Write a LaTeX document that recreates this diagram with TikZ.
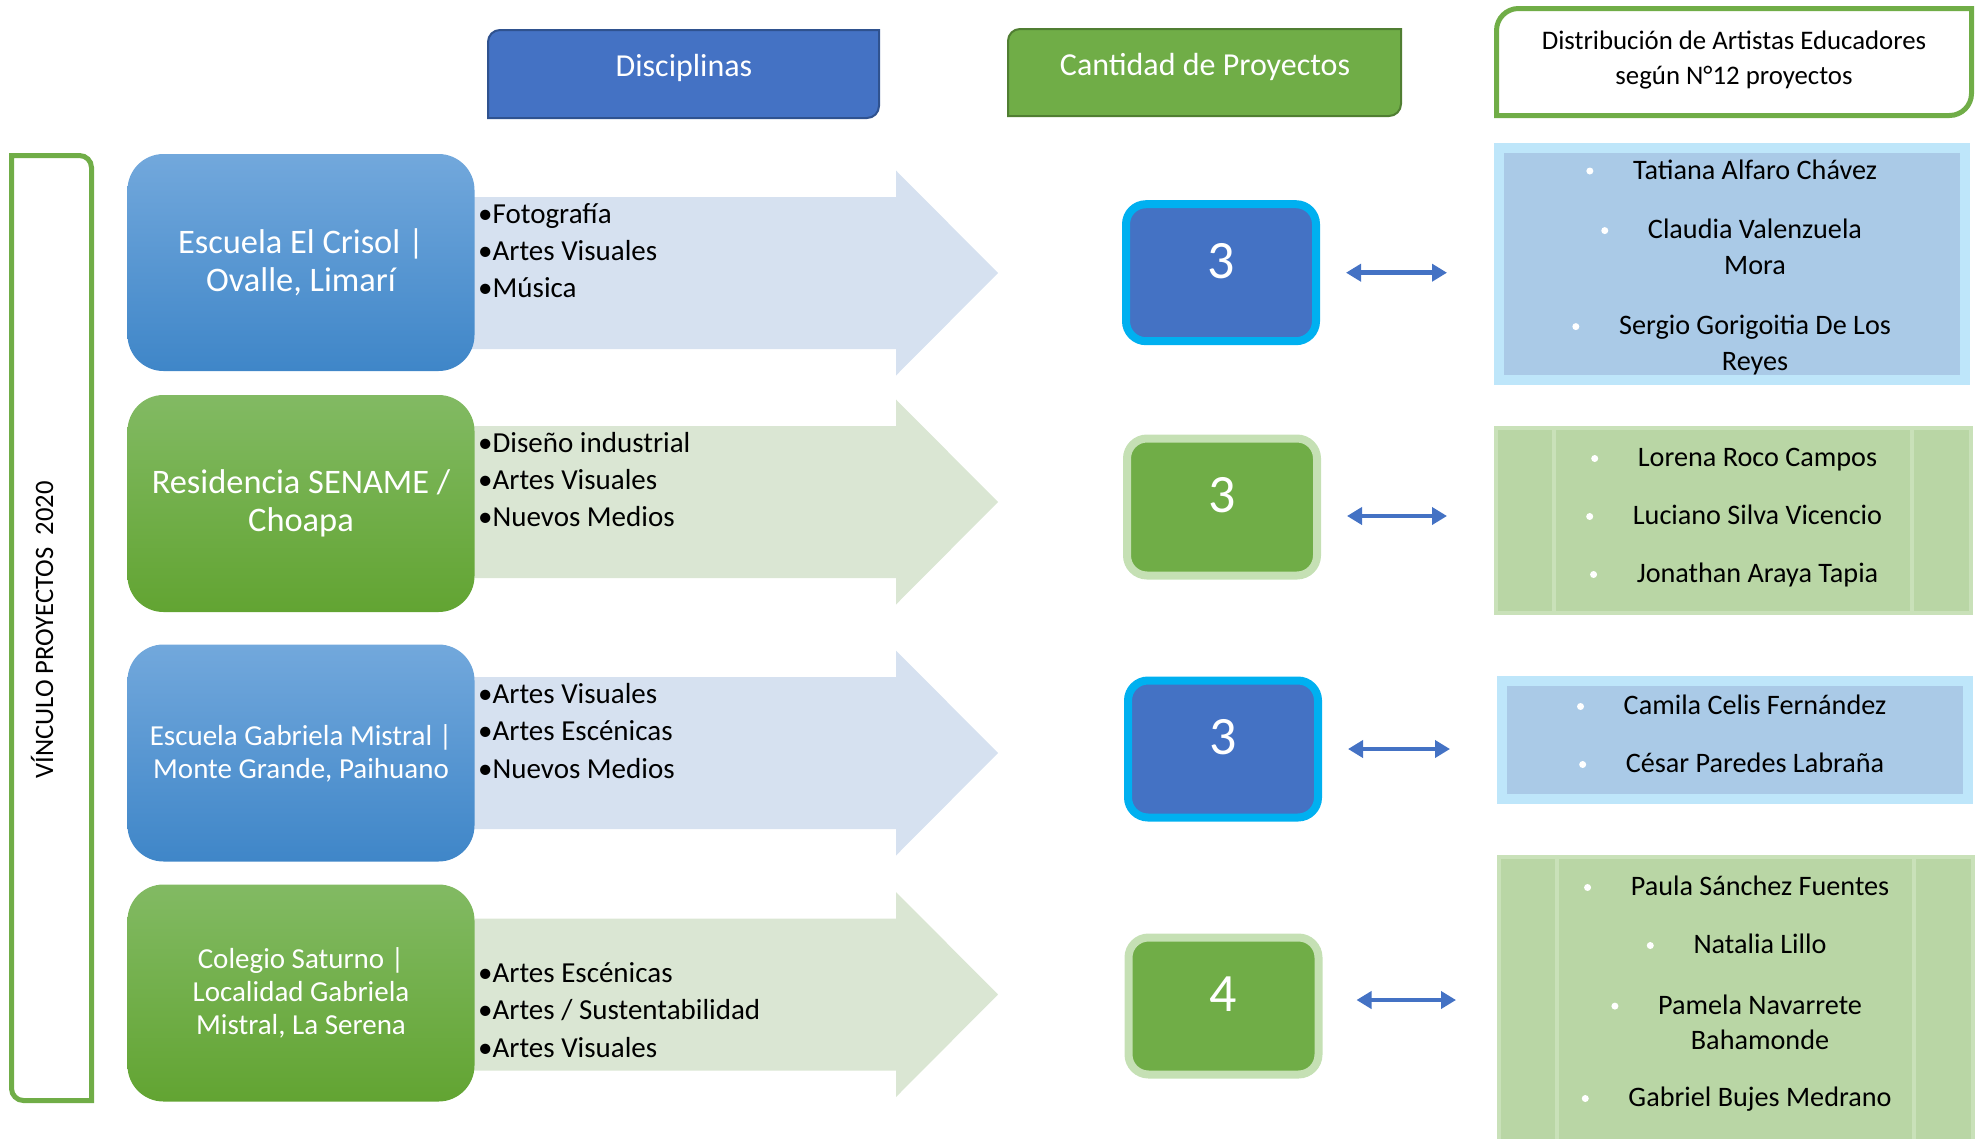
\documentclass[tikz,border=0pt]{standalone}
\usepackage{fontspec}
\setmainfont{Carlito}
\usetikzlibrary{positioning,arrows.meta}

\definecolor{hdrblue}{HTML}{4472C4}
\definecolor{hdrblueline}{HTML}{2F528F}
\definecolor{hdrgreen}{HTML}{70AD47}
\definecolor{hdrgreenline}{HTML}{507E32}
\definecolor{rowbluetop}{HTML}{72A8DC}
\definecolor{rowbluebot}{HTML}{3F86C8}
\definecolor{rowgreentop}{HTML}{82BA63}
\definecolor{rowgreenbot}{HTML}{62A432}
\definecolor{arwblue}{HTML}{D6E1F0}
\definecolor{arwgreen}{HTML}{DAE6D3}
\definecolor{numcyan}{HTML}{00B0F0}
\definecolor{numpale}{HTML}{C5E0B4}
\definecolor{nameblue}{HTML}{AACAE7}
\definecolor{namebevel}{HTML}{BEE6FA}
\definecolor{namegreen}{HTML}{B9D6A5}
\definecolor{nameline}{HTML}{C9E1B9}

\tikzset{
	school/.style={rounded corners=36pt, minimum width=347pt, minimum height=217pt,
		text=white, align=center, inner sep=0pt},
	schoolblue/.style={school, top color=rowbluetop, bottom color=rowbluebot},
	schoolgreen/.style={school, top color=rowgreentop, bottom color=rowgreenbot},
	subjects/.style={anchor=west, align=left, inner sep=0pt, font=\fontsize{29}{37.3}\selectfont},
	countbox/.style={rounded corners=20pt, minimum width=190pt, minimum height=137pt,
		line width=8pt, inner sep=0pt},
	countblue/.style={countbox, fill=hdrblue, draw=numcyan},
	countgreen/.style={countbox, fill=hdrgreen, draw=numpale},
	count/.style={text=white, inner sep=0pt, font=\fontsize{54}{60}\selectfont},
	link/.style={{Triangle[width=17pt,length=15pt]}-{Triangle[width=17pt,length=15pt]},
		line width=4.5pt, hdrblue, shorten <=26pt, shorten >=47pt},
	artistblue/.style={fill=nameblue, draw=namebevel, line width=10pt, inner sep=0pt},
	artistgreen/.style={fill=namegreen, draw=nameline, line width=4pt, inner sep=0pt},
	artist/.style={anchor=base, align=center, inner sep=0pt, font=\fontsize{28.2}{35.4}\selectfont},
	namedot/.style={circle, fill=white, inner sep=0pt, minimum size=7pt},
}

\begin{document}
\begin{tikzpicture}[x=1pt, y=-1pt]
	\useasboundingbox (0,0) rectangle (1984,1138);
	%% headers
	\draw[hdrblueline, fill=hdrblue, line width=2pt] (500,30) -- (879,30) -- (879,106)
		arc[start angle=0, end angle=90, radius=12] -- (488,118) -- (488,42)
		arc[start angle=180, end angle=270, radius=12] -- cycle;
	\draw[hdrgreenline, fill=hdrgreen, line width=2pt] (1020,29) -- (1401,29) -- (1401,104)
		arc[start angle=0, end angle=90, radius=12] -- (1008,116) -- (1008,41)
		arc[start angle=180, end angle=270, radius=12] -- cycle;
	\draw[hdrgreen, fill=white, line width=5pt] (1518,8.5) -- (1971.5,8.5) -- (1971.5,93.5)
		arc[start angle=0, end angle=90, radius=22] -- (1496.5,115.5) -- (1496.5,30.5)
		arc[start angle=180, end angle=270, radius=22] -- cycle;
	\node[text=white, font=\fontsize{32}{38}\selectfont] (hdisc) at (684,68) {Disciplinas};
	\node[text=white, font=\fontsize{32}{38}\selectfont] (hcant) at (1205,67) {Cantidad de Proyectos};
	\node[align=center, font=\fontsize{26.8}{35.4}\selectfont] (hdist) at (1734,60)
		{Distribución de Artistas Educadores\\según N°12 proyectos};
	%% left frame
	\draw[hdrgreen, line width=5pt] (11.5,155.5) -- (79.5,155.5)
		arc[start angle=270, end angle=360, radius=12] -- (91.5,1100.5) -- (23.5,1100.5)
		arc[start angle=90, end angle=180, radius=12] -- cycle;
	\node[rotate=90, font=\fontsize{26.6}{30}\selectfont] (vinc) at (42,630)
		{VÍNCULO PROYECTOS\ \ 2020};
	%% arrows behind the schools
	\foreach \c/\col in {273/arwblue, 502/arwgreen, 753/arwblue, 994.5/arwgreen}
		\fill[\col] (300,\c-76) -- (896,\c-76) -- (896,\c-102.5) -- (998,\c)
			-- (896,\c+102.5) -- (896,\c+76) -- (300,\c+76) -- cycle;
	%% schools
	\node[schoolblue, font=\fontsize{34.4}{38}\selectfont] (s1) at (301,262.5)
		{Escuela El Crisol |\\Ovalle, Limarí};
	\node[schoolgreen, font=\fontsize{34.4}{38}\selectfont] (s2) at (301,503.5)
		{Residencia SENAME /\\Choapa};
	\node[schoolblue, font=\fontsize{29}{33}\selectfont] (s3) at (301,753)
		{Escuela Gabriela Mistral |\\Monte Grande, Paihuano};
	\node[schoolgreen, font=\fontsize{29}{33}\selectfont] (s4) at (301,993)
		{Colegio Saturno |\\Localidad Gabriela\\Mistral, La Serena};
	\node[subjects] (d1) at (478,250.5) {•Fotografía\\•Artes Visuales\\•Música};
	\node[subjects] (d2) at (478,479.5) {•Diseño industrial\\•Artes Visuales\\•Nuevos Medios};
	\node[subjects] (d3) at (478,731) {•Artes Visuales\\•Artes Escénicas\\•Nuevos Medios};
	\node[subjects] (d4) at (478,1010) {•Artes Escénicas\\•Artes / Sustentabilidad\\•Artes Visuales};
	%% project counts
	\node[countblue, label={[count, yshift=12pt]center:3}] (n1) at (1221,272.7) {};
	\node[countgreen, label={[count, yshift=12pt]center:3}] (n2) at (1222,507) {};
	\node[countblue, label={[count, yshift=12pt]center:3}] (n3) at (1223,749) {};
	\node[countgreen, label={[count, yshift=12pt]center:4}] (n4) at (1223.5,1006) {};
	%% artists
	\node[artistblue, minimum width=466pt, minimum height=231.6pt] (p1) at (1732,263.8) {};
	\node[artistgreen, minimum width=474.6pt, minimum height=184.6pt] (p2) at (1733.3,520.7) {};
	\node[artistblue, minimum width=465.6pt, minimum height=117.8pt] (p3) at (1734.8,739.6) {};
	\node[artistgreen, minimum width=474pt, minimum height=290.7pt] (p4) at (1736,1002.7) {};
	\foreach \p in {p2,p4}{
		\draw[nameline, line width=4pt] ([xshift=60pt]\p.north west) -- ([xshift=60pt]\p.south west);
		\draw[nameline, line width=4pt] ([xshift=-61pt]\p.north east) -- ([xshift=-61pt]\p.south east);
	}
	\draw[link] (n1.east) -- (n1.east -| p1.west);
	\draw[link] ([yshift=-9pt]n2.east) -- ([yshift=-9pt]n2.east -| p2.west);
	\draw[link] (n3.east) -- (n3.east -| p3.west);
	\draw[link, shorten <=34pt, shorten >=41pt] ([yshift=6pt]n4.east) -- ([yshift=6pt]n4.east -| p4.west);
	% names (two-line ones sit on their last line)
	\node[artist] (a1) at (1755,179) {Tatiana Alfaro Chávez};
	\node[artist] (a2) at (1755,274) {Claudia Valenzuela\\Mora};
	\node[artist] (a3) at (1755,370) {Sergio Gorigoitia De Los\\Reyes};
	\node[artist] (a4) at (1757.5,466.5) {Lorena Roco Campos};
	\node[artist] (a5) at (1757.5,524.5) {Luciano Silva Vicencio};
	\node[artist] (a6) at (1757.5,582.5) {Jonathan Araya Tapia};
	\node[artist] (a7) at (1755,714.5) {Camila Celis Fernández};
	\node[artist] (a8) at (1755,772.5) {César Paredes Labraña};
	\node[artist] (a9) at (1760,895.5) {Paula Sánchez Fuentes};
	\node[artist] (a10) at (1760,953.5) {Natalia Lillo};
	\node[artist] (a11) at (1760,1049.5) {Pamela Navarrete\\Bahamonde};
	\node[artist] (a12) at (1760,1106.5) {Gabriel Bujes Medrano};
	\foreach \a in {a1,a4,a5,a6,a7,a8,a9,a10,a12}
		\node[namedot] at ([xshift=-43pt, yshift=8pt]\a.base west) {};
	\foreach \a in {a2,a3,a11}
		\node[namedot] at ([xshift=-43pt, yshift=43.4pt]\a.base west) {};
\end{tikzpicture}
\end{document}
